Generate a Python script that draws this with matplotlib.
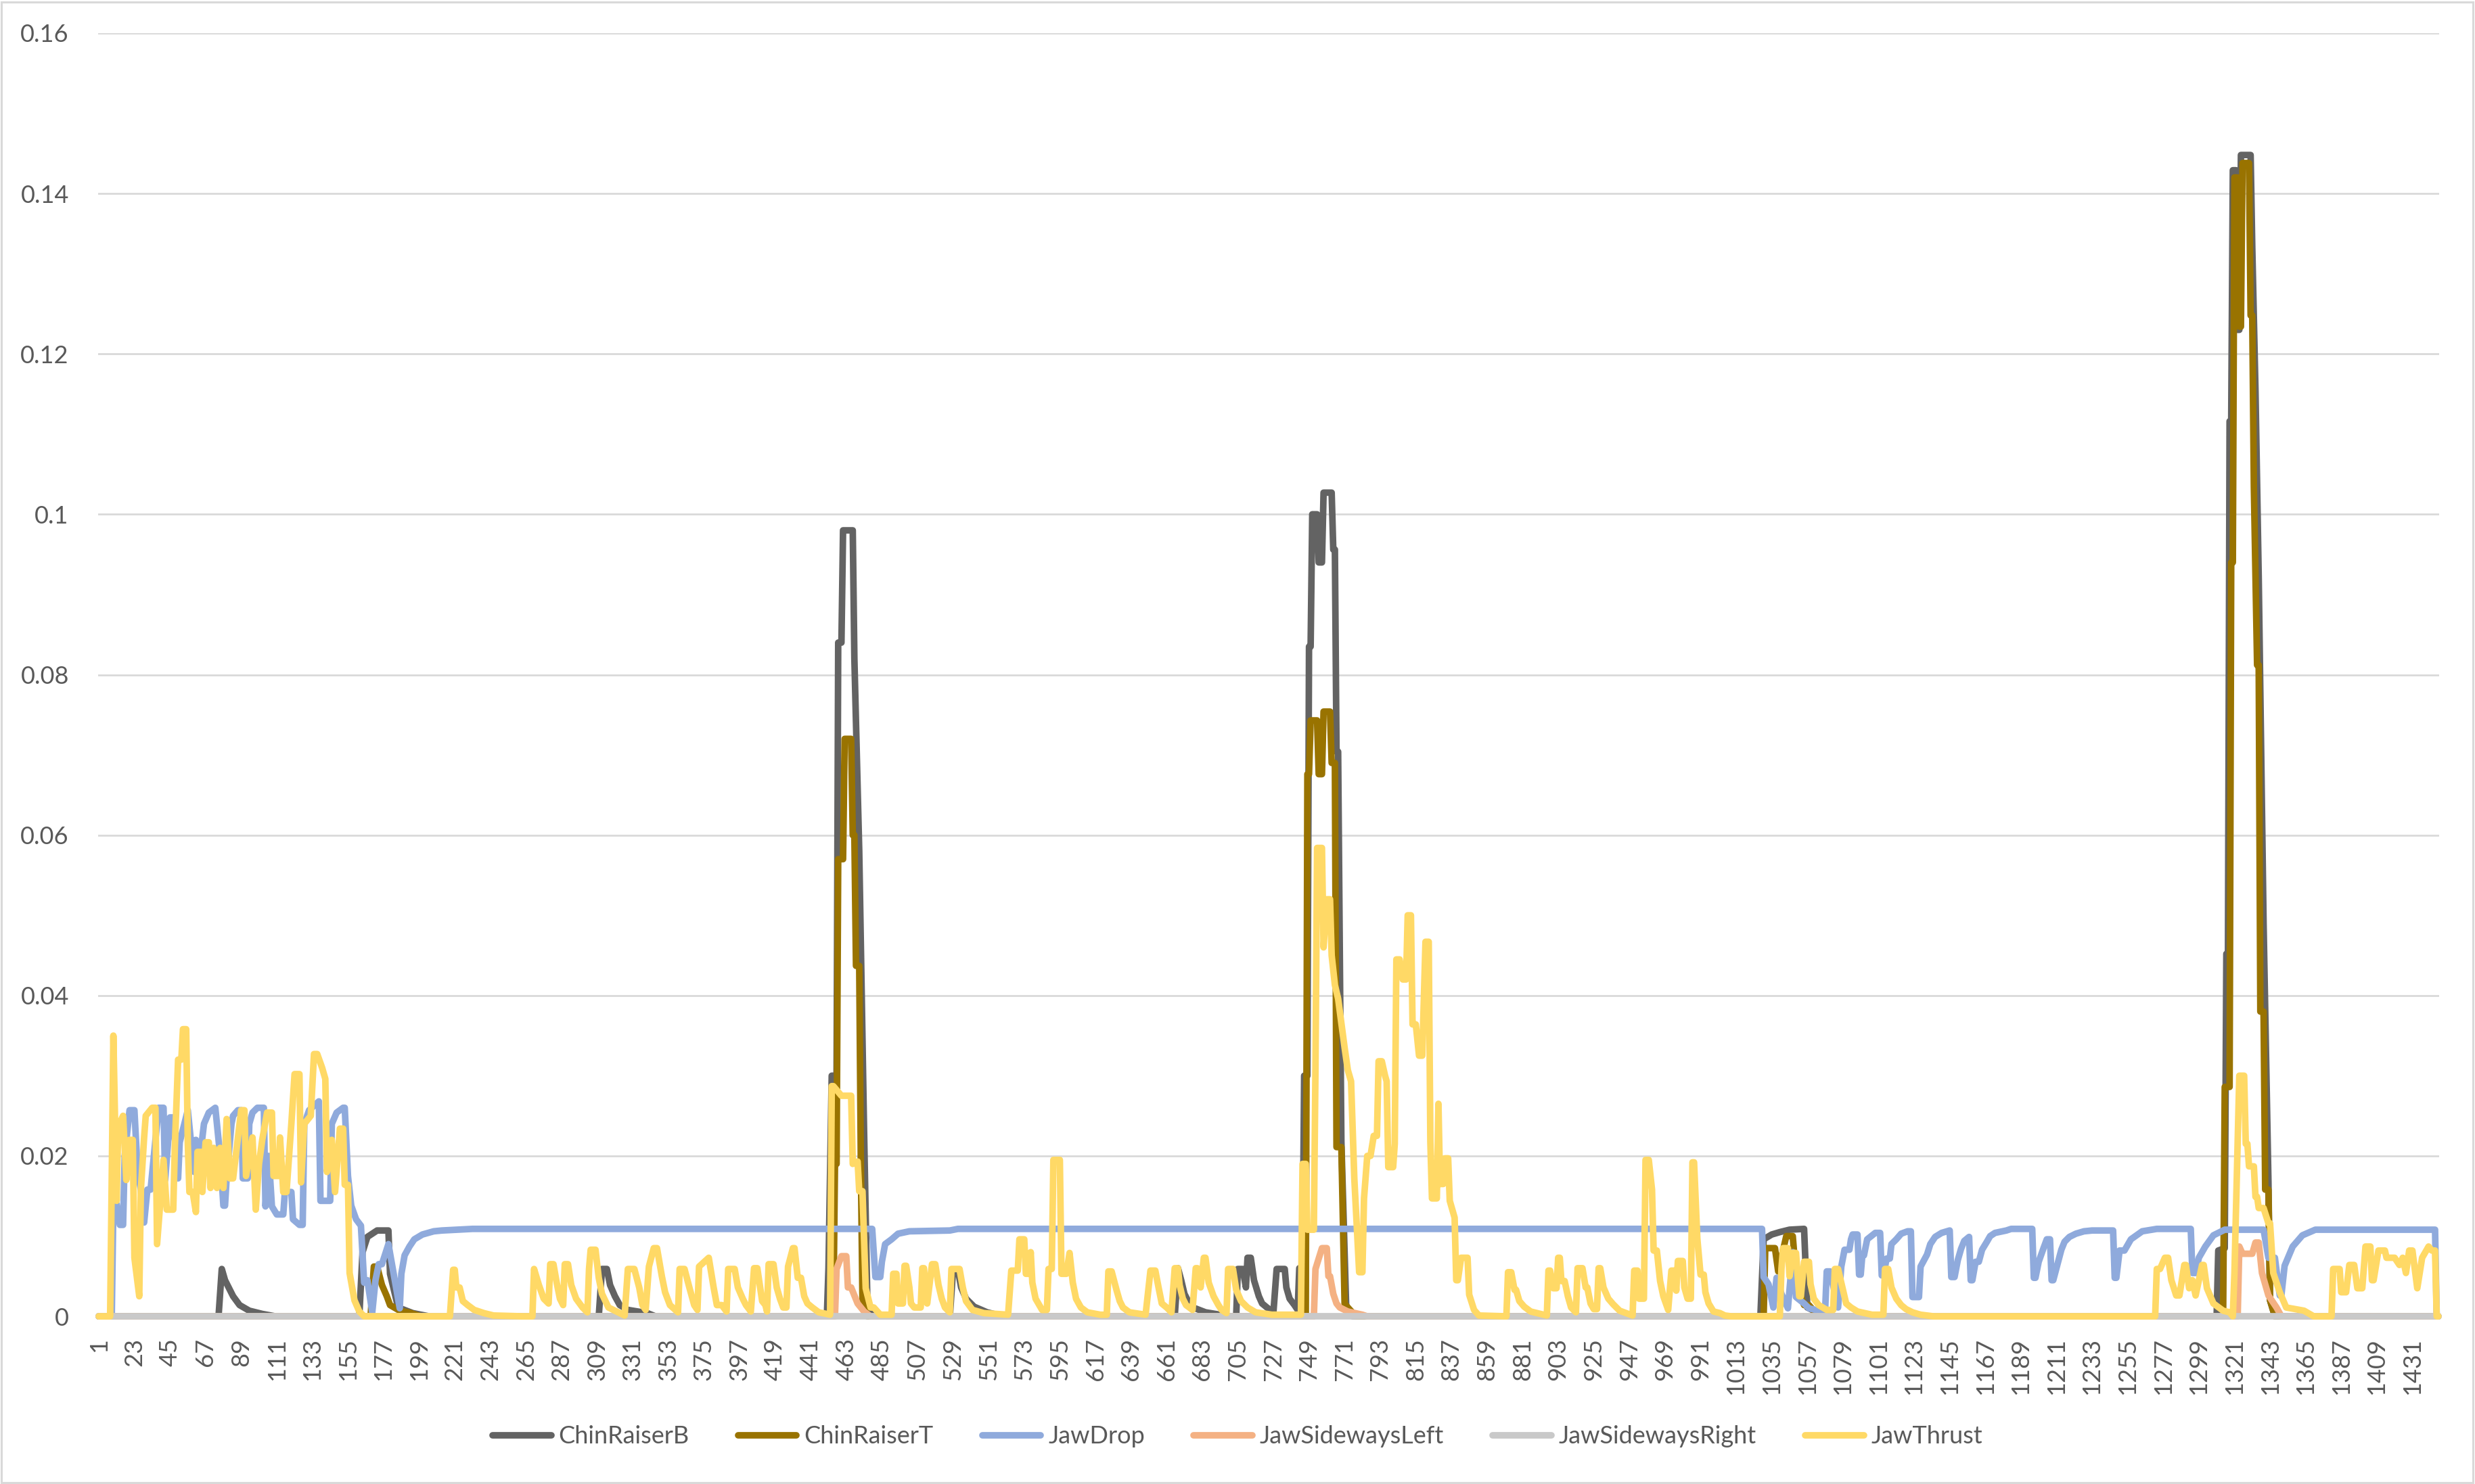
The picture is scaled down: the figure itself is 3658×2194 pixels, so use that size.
import matplotlib
matplotlib.use("Agg")
import matplotlib.pyplot as plt
from matplotlib.patches import Rectangle

# ---------------- data (frame, value) ----------------
N_FRAMES = 1447
TICK_LABELS = list(range(1, 1432, 22))

series_names = ["ChinRaiserB", "ChinRaiserT", "JawDrop", "JawSidewaysLeft",
                "JawSidewaysRight", "JawThrust"]

chin_raiser_b = [
    (1,0),(75,0),(77,0.0059),(79,0.0045),(81,0.0037),(84,0.0025),(88,0.0014),(94,0.0007),(102,0.0003),(110,0),
    (162,0),(164,0.008),(167,0.0099),(173,0.0107),(180,0.0107),(181,0.0053),(186,0.0011),(195,0.0004),(205,0),
    (310,0),(312,0.0059),(315,0.0059),(317,0.0039),(320,0.0025),(323,0.0014),(328,0.0008),(340,0.0004),(345,0),
    (451,0),(452,0.006),(454,0.03),(457,0.03),(458,0.084),(460,0.084),(461,0.098),(467,0.098),(468,0.082),
    (471,0.058),(474,0.023),(476,0.002),(480,0),
    (527,0),(529,0.0058),(532,0.0058),(534,0.0036),(537,0.0022),(542,0.0012),(550,0.0005),(560,0),
    (666,0),(668,0.006),(670,0.0045),(672,0.0028),(676,0.0012),(685,0.0005),(700,0),
    (704,0),(705,0.0059),(708,0.0059),(710,0.0036),(711,0.0073),(713,0.0073),(715,0.0045),(718,0.0025),
    (720,0.0016),(723,0.0011),(727,0.0005),(729,0.0059),(734,0.0059),(735,0.0036),(737,0.0022),(740,0.0014),
    (742,0.0008),(743,0.006),(745,0.006),
    (746,0.030),(748,0.030),(749,0.0835),(750,0.0835),(751,0.100),(754,0.100),(755,0.094),(757,0.094),
    (758,0.1027),(763,0.1027),(764,0.0956),(765,0.0956),(766,0.0704),(767,0.0704),(769,0.0218),(772,0.001),(776,0),
    (1028,0),(1030,0.0096),(1035,0.0102),(1040,0.0105),(1046,0.0108),(1055,0.0109),(1057,0.0011),(1063,0.0005),(1070,0),
    (1310,0),(1311,0.0082),(1315,0.0085),(1316,0.0452),(1317,0.0452),(1318,0.1116),(1319,0.1116),(1320,0.1429),
    (1322,0.1429),(1323,0.123),(1324,0.123),(1325,0.1448),(1331,0.1448),(1332,0.1334),(1334,0.1154),(1336,0.0921),
    (1339,0.049),(1342,0.0168),(1343,0.002),(1346,0),(1447,0),
]

chin_raiser_t = [
    (1,0),(169,0),(171,0.0062),(173,0.0062),(176,0.0039),(179,0.0025),(181,0.0014),(187,0.0007),(194,0.0004),(200,0),
    (455,0),(456,0.019),(457,0.019),(458,0.057),(461,0.057),(462,0.072),(466,0.072),(467,0.060),(468,0.060),
    (469,0.0437),(471,0.0437),(472,0.019),(473,0.002),(476,0),
    (747,0),(748,0.0676),(749,0.0676),(750,0.0743),(754,0.0743),(755,0.0676),(757,0.0676),(758,0.0754),(762,0.0754),
    (763,0.069),(765,0.069),(766,0.0211),(769,0.0211),(771,0.0016),(773,0.0011),(778,0),
    (1030,0),(1031,0.0085),(1037,0.0085),(1039,0.0056),(1044,0.010),(1048,0.010),(1050,0.005),(1051,0.0025),
    (1053,0.0025),(1055,0.0014),(1058,0.0014),(1061,0.0007),(1066,0),
    (1314,0),(1315,0.0286),(1318,0.0286),(1319,0.094),(1320,0.094),(1321,0.142),(1323,0.142),(1324,0.1234),
    (1325,0.1234),(1326,0.1438),(1330,0.1438),(1331,0.1248),(1332,0.1248),(1333,0.1035),(1335,0.0812),(1336,0.0812),
    (1337,0.038),(1339,0.038),(1340,0.0158),(1342,0.0158),(1343,0.002),(1346,0),(1447,0),
]

jaw_drop = [
    (1,0),(9,0),(10,0.014),(12,0.014),(14,0.0114),(16,0.0114),(17,0.02),(20,0.0257),(23,0.0257),(25,0.018),
    (27,0.0158),(29,0.0117),(31,0.0158),(33,0.0158),(36,0.022),(38,0.026),(41,0.026),(42,0.017),(45,0.0248),
    (47,0.0248),(50,0.0172),(51,0.0217),(56,0.0257),(58,0.0217),(60,0.018),(61,0.022),(64,0.0206),(66,0.024),
    (69,0.0254),(73,0.026),(76,0.02),(78,0.0138),(79,0.0138),(80,0.0172),(83,0.024),(84,0.025),(87,0.0257),
    (89,0.0257),(90,0.0172),(93,0.0172),(94,0.024),(96,0.0254),(99,0.026),(103,0.026),(104,0.0137),(106,0.02),
    (108,0.0137),(111,0.0127),(115,0.0127),(116,0.0155),(120,0.0155),(121,0.0121),(125,0.0114),(127,0.0114),
    (128,0.024),(131,0.0257),(137,0.0268),(138,0.0144),(144,0.0144),(145,0.024),(148,0.0254),(152,0.026),
    (153,0.026),(155,0.0175),(157,0.0138),(160,0.0121),(163,0.0113),(165,0.0042),(167,0.0045),(170,0.0005),
    (172,0.0045),(174,0.0065),(176,0.0065),(180,0.009),(187,0.001),(188,0.0053),(190,0.0076),(193,0.0087),
    (196,0.0096),(201,0.0102),(208,0.0106),(213,0.0107),(232,0.0109),(479,0.0109),(481,0.0049),(484,0.0049),
    (485,0.0068),(487,0.009),(491,0.0096),(495,0.0103),(502,0.0106),(527,0.0107),(532,0.0109),(1029,0.0109),
    (1030,0.0049),(1033,0.004),(1036,0.0011),(1038,0.0048),(1041,0.0028),(1045,0.001),(1048,0.008),(1050,0.0024),
    (1055,0.0016),(1058,0.001),(1062,0.0008),(1068,0.0007),(1069,0.0056),(1071,0.0056),(1076,0.0011),(1078,0.0062),
    (1080,0.0083),(1083,0.0083),(1084,0.0096),(1085,0.0102),(1088,0.0102),(1089,0.0052),(1090,0.0052),(1091,0.0076),
    (1092,0.0076),(1094,0.0096),(1099,0.0104),(1102,0.0104),(1103,0.0051),(1104,0.0051),(1106,0.0072),(1108,0.0072),
    (1109,0.0090),(1112,0.0096),(1115,0.0103),(1119,0.0106),(1121,0.0106),(1122,0.0024),(1126,0.0024),(1127,0.0062),
    (1131,0.0077),(1133,0.009),(1136,0.0099),(1140,0.0104),(1145,0.0107),(1146,0.0049),(1148,0.0049),(1150,0.0070),
    (1152,0.0084),(1154,0.0094),(1157,0.0099),(1158,0.0045),(1159,0.0045),(1161,0.0068),(1163,0.0068),(1165,0.0083),
    (1168,0.0093),(1170,0.0100),(1173,0.0104),(1180,0.0107),(1183,0.0109),(1196,0.0109),(1197,0.0048),(1198,0.0048),
    (1200,0.0068),(1203,0.0085),(1205,0.0096),(1207,0.0096),(1208,0.0045),(1209,0.0045),(1212,0.0068),(1214,0.0083),
    (1216,0.0093),(1219,0.0099),(1223,0.0103),(1228,0.0106),(1233,0.0107),(1246,0.0107),(1247,0.0048),(1248,0.0048),
    (1250,0.0082),(1253,0.0082),(1257,0.0096),(1264,0.0106),(1273,0.0109),(1294,0.0109),(1295,0.0054),(1297,0.0054),
    (1299,0.0073),(1303,0.0087),(1308,0.0101),(1315,0.0108),(1339,0.0108),(1342,0.0073),(1346,0.0073),(1349,0.0026),
    (1350,0.0026),(1352,0.0063),(1357,0.0087),(1363,0.0101),(1371,0.0108),(1445,0.0108),(1446,0),(1447,0),
]

jaw_sideways_left = [
    (1,0),(456,0),(457,0.0059),(460,0.0075),(463,0.0075),(464,0.0036),(466,0.0036),(470,0.0016),(474,0.0006),(478,0),
    (752,0),(753,0.0059),(757,0.0085),(760,0.0085),(761,0.005),(762,0.005),(764,0.0028),(766,0.0016),(768,0.0011),
    (773,0.0006),(782,0.0002),(785,0),
    (1323,0),(1324,0.0087),(1326,0.0078),(1332,0.0078),(1334,0.0092),(1336,0.0092),(1338,0.0054),(1342,0.0026),
    (1347,0.0011),(1350,0),(1447,0),
]

jaw_sideways_right = [(1,0),(1447,0)]

jaw_thrust = [
    (1,0),(8,0),(10,0.035),(12,0.0144),(13,0.0237),(16,0.025),(18,0.017),(20,0.022),(22,0.022),(23,0.0073),
    (26,0.0025),(27,0.0158),(29,0.0223),(30,0.025),(34,0.026),(36,0.026),(37,0.009),(41,0.0195),(43,0.0133),
    (47,0.0133),(48,0.0212),(50,0.032),(52,0.032),(53,0.0358),(55,0.0358),(56,0.0215),(57,0.0155),(59,0.0155),
    (61,0.013),(62,0.0205),(64,0.0205),(65,0.0155),(67,0.0217),(69,0.0217),(70,0.016),(72,0.021),(74,0.016),
    (76,0.021),(78,0.016),(80,0.0246),(82,0.0172),(84,0.0172),(89,0.0257),(91,0.0257),(92,0.0175),(96,0.0223),
    (98,0.0133),(100,0.019),(102,0.022),(105,0.0254),(108,0.0254),(109,0.0175),(112,0.0175),(113,0.0223),
    (115,0.0155),(117,0.0155),(120,0.024),(122,0.0302),(125,0.0302),(126,0.0167),(128,0.024),(132,0.025),
    (134,0.0327),(136,0.0327),(139,0.031),(141,0.0296),(142,0.018),(145,0.022),(147,0.0155),(150,0.0234),
    (152,0.0234),(153,0.0164),(155,0.0164),(156,0.0054),(159,0.002),(162,0.0006),(165,0),
    (218,0),(220,0.0058),(221,0.0058),(222,0.0036),(224,0.0036),(226,0.0019),(229,0.0014),(233,0.0008),(239,0.0004),
    (245,0.0001),(263,0),(269,0),(270,0.0059),(273,0.0039),(276,0.0022),(279,0.0016),(280,0.0065),(282,0.0065),
    (284,0.0042),(286,0.0022),(288,0.0014),(289,0.0065),(291,0.0065),(293,0.0039),(296,0.0022),(300,0.0011),
    (303,0.0005),(304,0.0059),(305,0.0083),(308,0.0083),(310,0.0048),(312,0.0028),(316,0.0011),(326,0.0001),
    (328,0.0059),(332,0.0059),(335,0.0036),(337,0.0014),(339,0.0008),(341,0.0062),(344,0.0085),(346,0.0085),
    (349,0.005),(351,0.003),(354,0.0014),(359,0.0005),(360,0.0059),(363,0.0059),(366,0.0036),(369,0.0014),
    (371,0.0008),(372,0.0062),(378,0.0073),(381,0.0036),(383,0.0014),(386,0.0014),(389,0.0006),(390,0.0059),
    (394,0.0059),(396,0.0036),(399,0.0022),(401,0.0014),(404,0.0006),(406,0.006),(408,0.006),(410,0.0033),
    (411,0.0019),(413,0.0014),(414,0.0006),(415,0.0065),(418,0.0065),(420,0.0036),(422,0.0022),(424,0.0011),
    (426,0.0011),(427,0.0062),(430,0.0085),(431,0.0085),(433,0.0048),(435,0.0048),(437,0.0025),(439,0.0016),
    (442,0.0011),(446,0.0005),(453,0.0002),
    (454,0.0287),(455,0.0287),(460,0.0275),(466,0.0275),(467,0.019),(470,0.0193),(471,0.0156),(473,0.0156),
    (474,0.0096),(475,0.0035),(478,0.0011),(480,0.0011),(484,0.0002),(491,0.0002),(492,0.0053),(494,0.0053),
    (495,0.0016),(498,0.0016),(499,0.0063),(500,0.0063),(502,0.0036),(503,0.0016),(505,0.0011),(509,0.0011),
    (510,0.006),(511,0.006),(512,0.0033),(513,0.0016),(516,0.0065),(518,0.0065),(520,0.0039),(522,0.0022),
    (524,0.0011),(527,0.0005),(528,0.0059),(533,0.0059),(535,0.0036),(537,0.0019),(541,0.0008),(548,0.0004),
    (563,0.0002),(565,0.0057),(569,0.0057),(570,0.0096),(573,0.0096),(574,0.0053),(576,0.0053),(577,0.008),
    (578,0.0042),(580,0.0022),(584,0.0008),(587,0.0008),(588,0.0059),(590,0.0059),(591,0.0195),(595,0.0195),
    (596,0.0053),(599,0.0053),(601,0.0079),(603,0.0042),(605,0.0022),(608,0.0011),(612,0.0005),(620,0.0002),
    (624,0.0002),(625,0.0056),(627,0.0056),(630,0.0033),(632,0.0019),(634,0.0011),(638,0.0005),(648,0.0002),
    (651,0.0057),(654,0.0057),(656,0.0036),(658,0.0016),(661,0.0011),(664,0.0005),(666,0.006),(668,0.006),
    (669,0.0039),(671,0.0022),(673,0.0014),(677,0.0008),(679,0.006),(680,0.006),(682,0.0036),(684,0.0073),
    (685,0.0073),(687,0.0042),(690,0.0025),(693,0.0014),(695,0.0008),(698,0.0004),(699,0.0059),(702,0.0059),
    (704,0.0033),(707,0.0019),(711,0.0011),(716,0.0005),(726,0.0002),(744,0.0002),
    (745,0.019),(747,0.019),(748,0.0108),(752,0.0108),(753,0.031),(754,0.0584),(757,0.0584),(758,0.046),
    (760,0.052),(762,0.052),(763,0.045),(765,0.0413),(767,0.0396),(771,0.0335),(773,0.0307),(775,0.0293),
    (777,0.0172),(780,0.0055),(782,0.0055),(783,0.0147),(785,0.020),(787,0.020),(789,0.0225),(791,0.0225),
    (792,0.0318),(794,0.0318),(796,0.030),(797,0.0293),(798,0.0186),(801,0.0186),(802,0.0215),(803,0.0445),
    (805,0.0445),(807,0.042),(809,0.042),(810,0.050),(812,0.050),(813,0.0364),(815,0.0364),(817,0.0325),
    (819,0.0325),(821,0.0467),(823,0.0467),(824,0.0218),(825,0.0147),(828,0.0147),(829,0.0265),(830,0.0165),
    (832,0.0165),(833,0.0197),(835,0.0197),(836,0.0144),(839,0.0123),(840,0.0045),(841,0.0045),(843,0.0073),
    (847,0.0073),(848,0.0027),(851,0.0008),(854,0.0001),(871,0),(872,0.0055),(874,0.0055),(876,0.0033),
    (877,0.0033),(879,0.0019),(882,0.0012),(886,0.0006),(890,0.0004),(896,0.0001),(897,0.0057),(898,0.0057),
    (900,0.0035),(902,0.0035),(903,0.0073),(904,0.0073),(905,0.0044),(907,0.0044),(909,0.0025),(911,0.0011),
    (914,0.0005),(915,0.006),(918,0.006),(920,0.0036),(921,0.0036),(923,0.0016),(925,0.0009),(927,0.0009),
    (928,0.006),(929,0.006),(931,0.0036),(934,0.0022),(937,0.0015),(941,0.0007),(945,0.0004),(949,0.0001),
    (950,0.0057),(952,0.0057),(953,0.0022),(956,0.0022),(957,0.0195),(959,0.0195),(961,0.0158),(962,0.0082),
    (964,0.0082),(966,0.0044),(968,0.0025),(971,0.0008),(973,0.0057),(975,0.0057),(976,0.0032),(977,0.0069),
    (980,0.0069),(981,0.0036),(983,0.0022),(985,0.0022),(986,0.0192),(987,0.0192),(989,0.0097),(991,0.0052),
    (993,0.0052),(994,0.003),(996,0.0016),(999,0.0006),(1003,0.0004),(1006,0.0001),(1010,0),
    (1040,0),(1041,0.0059),(1042,0.0085),(1045,0.0085),(1046,0.005),(1048,0.0079),(1050,0.0079),(1052,0.0025),
    (1053,0.0025),(1055,0.0068),(1058,0.0068),(1059,0.004),(1061,0.0022),(1064,0.0014),(1069,0.0008),(1073,0.0008),
    (1074,0.0059),(1076,0.0059),(1079,0.0033),(1081,0.0016),(1084,0.0011),(1088,0.0006),(1097,0.0002),(1104,0.0002),
    (1105,0.0059),(1107,0.0059),(1109,0.0036),(1112,0.0022),(1115,0.0014),(1118,0.0009),(1122,0.0005),(1127,0.0002),
    (1135,0),(1272,0),
    (1273,0.0059),(1275,0.0059),(1278,0.0073),(1280,0.0073),(1282,0.0045),(1285,0.0026),(1287,0.0026),(1290,0.0064),
    (1291,0.0064),(1293,0.0035),(1295,0.0045),(1297,0.0026),(1301,0.0064),(1302,0.0064),(1304,0.0035),(1308,0.0016),
    (1314,0.0007),(1318,0.0005),(1320,0),(1321,0.0054),(1324,0.030),(1327,0.030),(1328,0.0215),(1329,0.0215),
    (1330,0.0187),(1333,0.0187),(1334,0.0149),(1335,0.0149),(1336,0.0135),(1339,0.0135),(1342,0.0116),(1343,0.0116),
    (1345,0.0054),(1349,0.003),(1353,0.0011),(1364,0.0007),(1370,0),(1381,0),(1382,0.0059),(1386,0.0059),
    (1387,0.003),(1390,0.003),(1392,0.0064),(1395,0.0064),(1397,0.0035),(1400,0.0035),(1402,0.0087),(1405,0.0087),
    (1406,0.0045),(1407,0.0045),(1410,0.0082),(1414,0.0082),(1415,0.0073),(1420,0.0073),(1423,0.0064),(1425,0.0073),
    (1427,0.0054),(1429,0.0082),(1431,0.0082),(1434,0.0035),(1437,0.0073),(1441,0.0087),(1443,0.0082),(1445,0.0082),
    (1446,0),(1447,0),
]

series_data = [chin_raiser_b, chin_raiser_t, jaw_drop, jaw_sideways_left,
               jaw_sideways_right, jaw_thrust]
series_colors = ["#636363", "#997300", "#8FAADC", "#F4B183", "#C9C9C9", "#FFD966"]

# ---------------- styling ----------------
plt.rcParams['font.family'] = ['Lato', 'DejaVu Sans']
TEXT = "#595959"
GRID = "#D9D9D9"

fig = plt.figure(figsize=(36.58, 21.94), dpi=100)
fig.patch.set_facecolor("white")
fig.patches.append(Rectangle((0.0006, 0.001), 0.9985, 0.9975, transform=fig.transFigure,
                             fill=False, edgecolor=GRID, linewidth=2.2))

ax = fig.add_axes([0.0396, 0.1130, 0.9459, 0.8647])

for name, data, color in zip(series_names, series_data, series_colors):
    xs = [p[0] for p in data]
    ys = [p[1] for p in data]
    ax.plot(xs, ys, color=color, lw=7, label=name, solid_joinstyle='round',
            solid_capstyle='round', clip_on=False)

ax.set_xlim(0.5, N_FRAMES + 0.5)
ax.set_ylim(0, 0.16)
yt = [0, 0.02, 0.04, 0.06, 0.08, 0.10, 0.12, 0.14, 0.16]
ax.set_yticks(yt)
ax.set_yticklabels(["0", "0.02", "0.04", "0.06", "0.08", "0.1", "0.12", "0.14", "0.16"])
ax.set_xticks(TICK_LABELS)
ax.set_xticklabels([str(t) for t in TICK_LABELS], rotation=90)

ax.tick_params(axis='y', length=0, pad=31, labelsize=26, labelcolor=TEXT)
ax.tick_params(axis='x', length=0, pad=23, labelsize=26, labelcolor=TEXT)
ax.yaxis.grid(True, color=GRID, linewidth=2)
ax.set_axisbelow(True)
for s in ax.spines.values():
    s.set_visible(False)

handles, labels = ax.get_legend_handles_labels()
leg = fig.legend(handles, labels, loc='center', bbox_to_anchor=(0.5, 0.032), ncol=6,
                 frameon=False, fontsize=26, handlelength=2.4, handletextpad=0.3,
                 columnspacing=2.0)
for t in leg.get_texts():
    t.set_color(TEXT)
for h in leg.get_lines():
    h.set_linewidth(7)
    h.set_solid_capstyle('round')

fig.savefig("out.png", dpi=100, facecolor="white")
